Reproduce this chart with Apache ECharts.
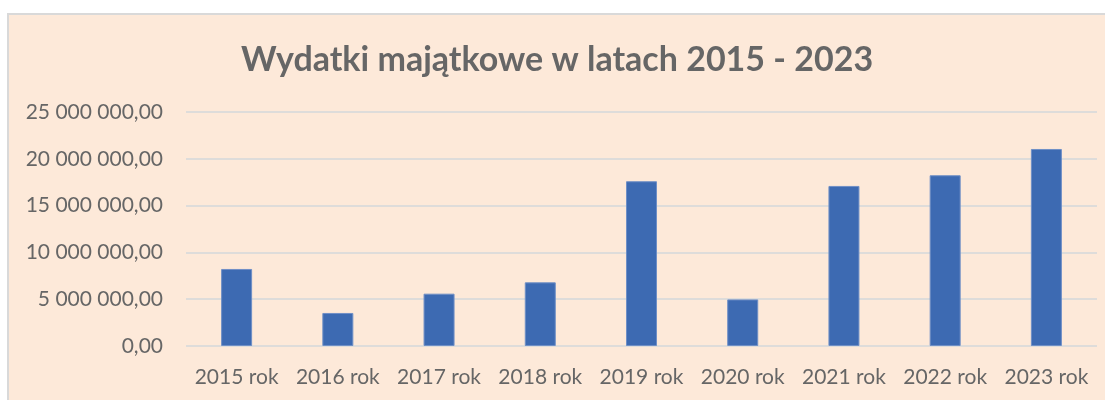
<!DOCTYPE html>
<html>
<head>
<meta charset="utf-8">
<script src="https://cdn.jsdelivr.net/npm/echarts@6/dist/echarts.min.js"></script>
<style>
  html, body { margin: 0; padding: 0; background: #fff; }
  #app {
    position: absolute;
    left: 7px;
    top: 13px;
    width: 1098px;
    height: 387px;
    border-left: 2px solid #d9d9d9;
    border-top: 2px solid #d9d9d9;
    box-sizing: border-box;
  }
</style>
</head>
<body>
<div id="app"></div>
<script>
const years = ['2015 rok', '2016 rok', '2017 rok', '2018 rok', '2019 rok', '2020 rok', '2021 rok', '2022 rok', '2023 rok']
const expenses = [8230000, 3530000, 5590000, 6800000, 17600000, 4980000, 17100000, 18240000, 21050000]
const yTicks = [0, 5000000, 10000000, 15000000, 20000000, 25000000]

// polski format: spacje co 3 cyfry, przecinek dziesiętny
function fmt(v) {
  const s = Math.round(v).toString().replace(/\B(?=(\d{3})+(?!\d))/g, ' ')
  return s + ',00'
}

const echart = echarts.init(document.getElementById('app'))

echart.setOption({
  backgroundColor: '#fde9d9',
  animation: false,
  title: {
    text: 'Wydatki majątkowe w latach 2015 - 2023',
    left: 'center',
    top: 23,
    textStyle: {
      fontFamily: 'Lato',
      fontWeight: 'bold',
      fontSize: 34,
      color: '#666666'
    }
  },
  grid: {
    left: 177,
    right: 8,
    top: 97,
    bottom: 54
  },
  xAxis: {
    type: 'category',
    data: years,
    axisLine: { show: false },
    axisTick: { show: false },
    axisLabel: {
      interval: 0,
      fontFamily: 'Lato',
      fontSize: 21,
      color: '#666666',
      margin: 21
    }
  },
  yAxis: {
    type: 'value',
    min: yTicks[0],
    max: yTicks[yTicks.length - 1],
    interval: yTicks[1] - yTicks[0],
    axisLine: { show: false },
    axisTick: { show: false },
    splitLine: {
      lineStyle: { color: '#dedcda', width: 2 }
    },
    axisLabel: {
      fontFamily: 'Lato',
      fontSize: 21,
      color: '#666666',
      margin: 23,
      formatter: fmt
    }
  },
  series: [
    {
      type: 'bar',
      data: expenses,
      barWidth: 31,
      itemStyle: {
        color: '#3d6ab2',
        borderColor: '#6f8fc6',
        borderWidth: 1
      }
    }
  ]
})
</script>
</body>
</html>
